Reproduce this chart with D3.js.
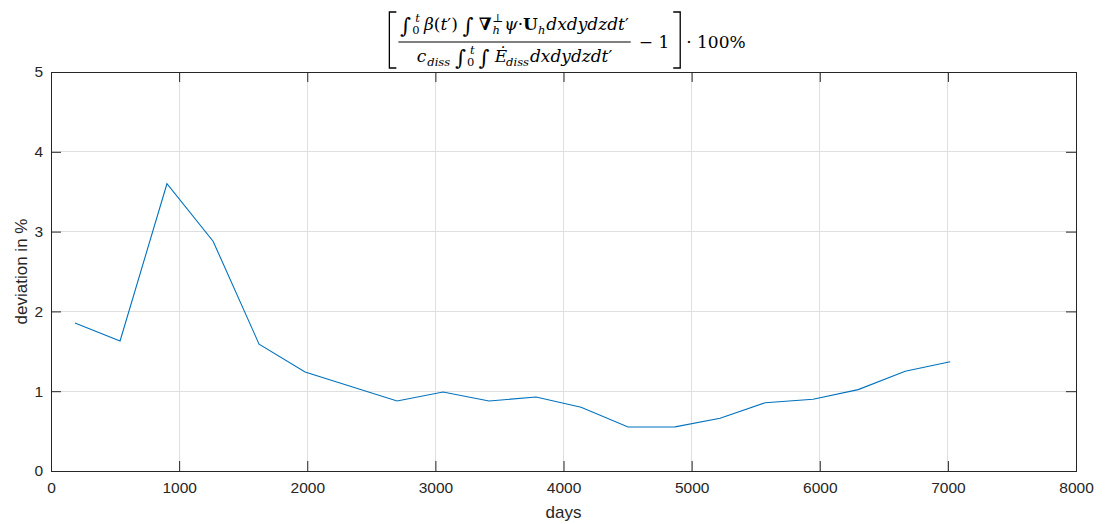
<!DOCTYPE html>
<html><head><meta charset="utf-8">
<script src="https://cdn.jsdelivr.net/npm/d3@7"></script>
<style>body{margin:0;background:#fff}svg{display:block}</style>
</head><body>
<svg id="chart" width="1105" height="524"></svg>
<script>
const days = [187, 539, 905, 1265, 1624, 1983, 2342, 2701, 3060, 3419, 3786, 4137, 4504, 4871, 5222, 5574, 5948, 6300, 6667, 7018];
const deviation = [1.855, 1.63, 3.60, 2.88, 1.59, 1.24, 1.06, 0.877, 0.99, 0.877, 0.927, 0.80, 0.551, 0.553, 0.66, 0.855, 0.90, 1.02, 1.25, 1.37];
const xTicks = [0, 1000, 2000, 3000, 4000, 5000, 6000, 7000, 8000];
const yTicks = [0, 1, 2, 3, 4, 5];
const xLabel = "days";
const yLabel = "deviation in %";

const svg = d3.select("#chart");
const m = {l: 51, r: 1076, t: 72, b: 471};
const x = d3.scaleLinear().domain([0, 8000]).range([m.l, m.r]);
const y = d3.scaleLinear().domain([0, 5]).range([m.b, m.t]);
const axisColor = "#262626";
const tickFont = "'Liberation Sans', Arial, sans-serif";

// grid
svg.append("g").selectAll("line").data(xTicks.slice(1, -1)).join("line")
  .attr("x1", d => x(d)).attr("x2", d => x(d)).attr("y1", m.t).attr("y2", m.b)
  .attr("stroke", "#dfdfdf").attr("stroke-width", 1).attr("shape-rendering", "crispEdges");
svg.append("g").selectAll("line").data(yTicks.slice(1, -1)).join("line")
  .attr("y1", d => y(d)).attr("y2", d => y(d)).attr("x1", m.l).attr("x2", m.r)
  .attr("stroke", "#dfdfdf").attr("stroke-width", 1).attr("shape-rendering", "crispEdges");

// line
svg.append("path").datum(days.map((d, i) => [d, deviation[i]]))
  .attr("fill", "none").attr("stroke", "#0072BD").attr("stroke-width", 1.1)
  .attr("d", d3.line().x(d => x(d[0])).y(d => y(d[1])));

// axes
const tl = 10;
function styleAxis(g) {
  g.select(".domain").remove();
  g.selectAll(".tick line").attr("stroke", axisColor);
  g.selectAll(".tick text").attr("fill", axisColor).attr("font-family", tickFont).attr("font-size", 15.5);
}
svg.append("g").attr("transform", `translate(0,${m.b})`)
  .call(d3.axisBottom(x).tickValues(xTicks).tickFormat(d3.format("d")).tickSizeInner(-tl).tickSizeOuter(0).tickPadding(11))
  .call(styleAxis);
svg.append("g").attr("transform", `translate(0,${m.t})`)
  .call(d3.axisTop(x).tickValues(xTicks).tickFormat("").tickSizeInner(-tl).tickSizeOuter(0))
  .call(styleAxis);
svg.append("g").attr("transform", `translate(${m.l},0)`)
  .call(d3.axisLeft(y).tickValues(yTicks).tickFormat(d3.format("d")).tickSizeInner(-tl).tickSizeOuter(0).tickPadding(8))
  .call(styleAxis);
svg.append("g").attr("transform", `translate(${m.r},0)`)
  .call(d3.axisRight(y).tickValues(yTicks).tickFormat("").tickSizeInner(-tl).tickSizeOuter(0))
  .call(styleAxis);
svg.append("rect").attr("x", m.l + 0.5).attr("y", m.t + 0.5).attr("width", m.r - m.l).attr("height", m.b - m.t)
  .attr("fill", "none").attr("stroke", axisColor).attr("stroke-width", 1).attr("shape-rendering", "crispEdges");

// axis labels
svg.append("text").attr("x", (m.l + m.r) / 2).attr("y", 518).attr("text-anchor", "middle")
  .attr("font-family", tickFont).attr("font-size", 17).attr("fill", axisColor).text(xLabel);
svg.append("text").attr("transform", `translate(27,${(m.t + m.b) / 2}) rotate(-90)`).attr("text-anchor", "middle")
  .attr("font-family", tickFont).attr("font-size", 17).attr("fill", axisColor).text(yLabel);

// ---- title (LaTeX-like) ----
const serif = "'DejaVu Serif', 'Liberation Serif', serif";
const fs = 17, ss = 11.5, intSize = 21;
const tg = svg.append("g");
function layout(items) {
  const g = tg.append("g");
  let cx = 0;
  items.forEach(it => {
    if (it.sp) { cx += it.sp; return; }
    if (it.t !== undefined) {
      const t = g.append("text").attr("x", cx).attr("y", it.dy || 0)
        .attr("font-family", serif).attr("font-size", it.size || fs)
        .attr("font-style", it.it ? "italic" : "normal")
        .attr("font-weight", it.b ? "bold" : "normal").attr("fill", "#000").text(it.t);
      cx += t.node().getComputedTextLength() + (it.after || 0);
    } else {
      let w = 0;
      const ox = cx + (it.ox || 0);
      if (it.sub !== undefined) {
        const t = g.append("text").attr("x", ox).attr("y", 4)
          .attr("font-family", serif).attr("font-size", ss).attr("font-style", it.subIt ? "italic" : "normal").text(it.sub);
        w = Math.max(w, t.node().getComputedTextLength());
      }
      if (it.sup !== undefined) {
        const t = g.append("text").attr("x", ox + (it.supOx || 0)).attr("y", -8)
          .attr("font-family", serif).attr("font-size", ss).attr("font-style", it.supIt ? "italic" : "normal").text(it.sup);
        w = Math.max(w, t.node().getComputedTextLength() + (it.supOx || 0));
      }
      cx = ox + w + 1;
    }
  });
  return {g, w: cx};
}
const num = layout([
  {t: "∫", dy: 3, size: intSize}, {sub: "0", sup: "t", supIt: true, ox: 1, supOx: 3}, {sp: 3},
  {t: "β", it: true}, {t: "("}, {t: "t", it: true}, {t: "′"}, {t: ")"}, {sp: 5},
  {t: "∫", dy: 3, size: intSize}, {sp: 5}, {t: "∇", b: true}, {sub: "h", sup: "⊥", subIt: true, ox: 1}, {t: "ψ", it: true},
  {t: " · "}, {t: "U", b: true}, {sub: "h", subIt: true}, {t: "dxdydzdt", it: true}, {t: "′"}
]);
const den = layout([
  {t: "c", it: true}, {sub: "diss", subIt: true, ox: 1}, {sp: 4}, {t: "∫", dy: 3, size: intSize}, {sub: "0", sup: "t", supIt: true, ox: 1, supOx: 3}, {sp: 3},
  {t: "∫", dy: 3, size: intSize}, {sp: 5}, {t: "Ė", it: true}, {sub: "diss", subIt: true, ox: -1}, {t: "dxdydzdt", it: true}, {t: "′"}
]);
const minus = layout([{t: "− 1"}]);
const tail = layout([{t: "· 100%"}]);
const fw = Math.max(num.w, den.w) + 4;
const bw = 7, gap = 8;
const total = bw + 2 + fw + gap + minus.w + 4 + bw + 6 + tail.w;
const sx = (m.l + m.r) / 2 + 4 - total / 2;
const midY = 42, brTop = 12, brBot = 68;
tg.append("path").attr("d", `M${sx + bw},${brTop} H${sx} V${brBot} H${sx + bw}`).attr("fill", "none").attr("stroke", "#000").attr("stroke-width", 1.3);
const fx = sx + bw + 2;
num.g.attr("transform", `translate(${fx + (fw - num.w) / 2},30)`);
den.g.attr("transform", `translate(${fx + (fw - den.w) / 2},62)`);
tg.append("line").attr("x1", fx).attr("x2", fx + fw).attr("y1", midY).attr("y2", midY).attr("stroke", "#000").attr("stroke-width", 1);
const mx = fx + fw + gap;
minus.g.attr("transform", `translate(${mx},${midY + 6})`);
const rx = mx + minus.w + 4;
tg.append("path").attr("d", `M${rx},${brTop} H${rx + bw} V${brBot} H${rx}`).attr("fill", "none").attr("stroke", "#000").attr("stroke-width", 1.3);
tail.g.attr("transform", `translate(${rx + bw + 6},${midY + 6})`);
</script>
</body></html>
